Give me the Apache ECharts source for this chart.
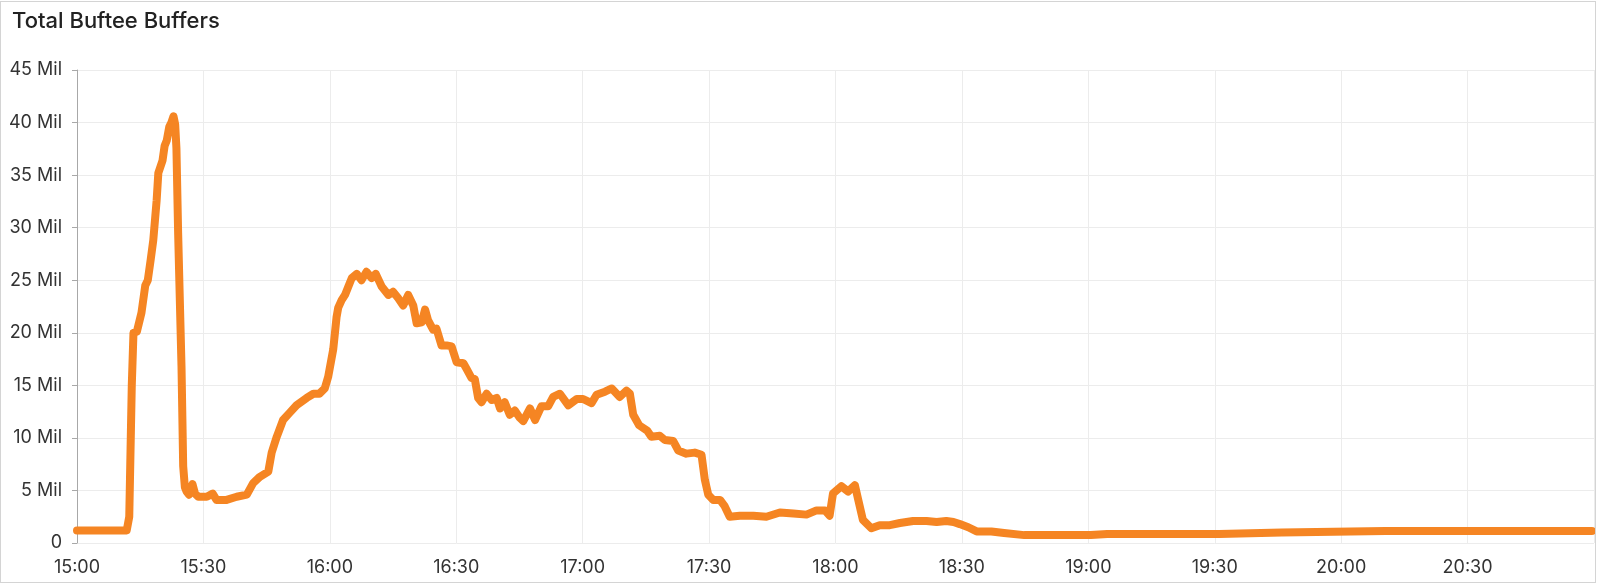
<!DOCTYPE html>
<html>
<head>
<meta charset="utf-8">
<title>Total Buftee Buffers</title>
<script src="https://cdn.jsdelivr.net/npm/echarts@6/dist/echarts.min.js"></script>
<style>
  html, body { margin: 0; padding: 0; background: #fff; }
  #wrap { position: relative; width: 1600px; height: 584px; }
  #chart { position: absolute; left: 0; top: 0; width: 1600px; height: 584px; }
  #frame {
    position: absolute; left: 0; top: 1px; width: 1594px; height: 580px;
    border: 1px solid #d4d4d4; pointer-events: none;
  }
</style>
</head>
<body>
<div id="wrap">
  <div id="chart"></div>
  <div id="frame"></div>
</div>
<script>
// Total Buftee Buffers — minutes after 15:00 and value in millions

const TITLE = 'Total Buftee Buffers';

const minutes = [
  0, 11.8, 12.4, 13.0, 13.4, 14.2, 15.3, 16.2, 16.8, 17.5,
  18.1, 18.9, 19.3, 20.3, 20.8, 21.3, 21.9, 22.4, 22.9, 23.3,
  23.6, 24.0, 24.8, 25.2, 25.6, 26.0, 26.6, 27.4, 28.0, 28.8,
  30.0, 30.8, 32.2, 33.1, 35.5, 37.9, 40.3, 41.8, 43.4, 45.4,
  46.2, 47.4, 48.9, 50.5, 52.1, 54.5, 56.1, 57.5, 58.8, 59.6,
  60.8, 61.6, 62.0, 62.8, 63.6, 64.4, 65.2, 66.4, 67.5, 68.7,
  69.9, 70.9, 72.3, 73.9, 75.0, 76.2, 77.4, 78.6, 79.8, 80.6,
  81.8, 82.6, 83.3, 84.5, 85.3, 86.5, 87.7, 88.9, 90.1, 91.7,
  92.4, 93.6, 94.4, 95.2, 96.0, 97.2, 98.4, 99.6, 100.4, 101.5,
  102.7, 103.9, 105.1, 105.9, 107.5, 108.7, 110.2, 111.8, 113.0, 114.6,
  116.6, 118.6, 120.1, 122.1, 123.3, 125.3, 126.9, 128.8, 130.4, 131.2,
  132.0, 133.4, 135.3, 136.3, 138.3, 139.5, 141.5, 142.7, 144.6, 146.6,
  148.2, 149.0, 149.8, 151.0, 152.6, 153.7, 154.9, 157.3, 160.5, 163.6,
  166.8, 170.0, 173.1, 175.5, 177.5, 178.6, 179.4, 181.4, 183.0, 184.6,
  185.4, 186.5, 188.5, 190.5, 192.9, 195.3, 198.4, 201.6, 204.0, 206.3,
  208.0, 209.5, 211.5, 213.5, 217.0, 220.0, 224.8, 240.6, 244.5, 271.1,
  285.9, 310.5, 359.5
];

const buffersMil = [
  1.2, 1.2, 2.5, 15.0, 20.0, 20.1, 21.9, 24.5, 25.0, 27.0,
  28.8, 32.6, 35.2, 36.4, 37.8, 38.3, 39.6, 40.0, 40.6, 39.8,
  37.5, 29.5, 16.8, 7.3, 5.3, 4.9, 4.6, 5.6, 4.7, 4.4,
  4.4, 4.4, 4.7, 4.1, 4.1, 4.4, 4.6, 5.7, 6.3, 6.8,
  8.6, 10.1, 11.7, 12.4, 13.1, 13.8, 14.2, 14.2, 14.7, 15.8,
  18.4, 21.5, 22.4, 23.1, 23.6, 24.4, 25.2, 25.6, 25.0, 25.8,
  25.2, 25.6, 24.4, 23.6, 23.9, 23.3, 22.6, 23.6, 22.6, 20.9,
  21.0, 22.2, 21.2, 20.3, 20.4, 18.8, 18.8, 18.7, 17.2, 17.1,
  16.6, 15.7, 15.6, 13.8, 13.4, 14.2, 13.6, 13.8, 12.8, 13.4,
  12.2, 12.6, 11.9, 11.6, 12.8, 11.7, 13.0, 13.0, 13.9, 14.2,
  13.1, 13.7, 13.7, 13.3, 14.1, 14.4, 14.7, 13.9, 14.5, 14.2,
  12.2, 11.2, 10.7, 10.1, 10.2, 9.8, 9.7, 8.8, 8.5, 8.6,
  8.4, 6.0, 4.6, 4.1, 4.1, 3.5, 2.5, 2.6, 2.6, 2.5,
  2.9, 2.8, 2.7, 3.1, 3.1, 2.6, 4.7, 5.4, 4.9, 5.5,
  4.1, 2.2, 1.4, 1.7, 1.7, 1.9, 2.1, 2.1, 2.0, 2.1,
  2.0, 1.8, 1.5, 1.1, 1.1, 0.95, 0.75, 0.75, 0.85, 0.85,
  1.0, 1.15, 1.15
];

const START_HOUR = 15;
const yTicks = [0, 5, 10, 15, 20, 25, 30, 35, 40, 45];

function fmtClock(m) {
  const total = START_HOUR * 60 + Math.round(m);
  const h = Math.floor(total / 60);
  const mm = total % 60;
  return h + ':' + (mm < 10 ? '0' : '') + mm;
}

function fmtMil(v) {
  return v === 0 ? '0' : v + ' Mil';
}

const FONT = 'Inter, "Noto Sans", sans-serif';

const chart = echarts.init(document.getElementById('chart'), null, { renderer: 'canvas' });
chart.setOption({
  backgroundColor: '#fff',
  animation: false,
  title: {
    text: TITLE,
    left: 7,
    top: 5,
    textStyle: { fontFamily: FONT, fontSize: 22, fontWeight: 500, color: '#222' },
  },
  grid: { left: 77, right: 6, top: 70, bottom: 41, containLabel: false },
  xAxis: {
    type: 'value',
    min: 0,
    max: 360,
    interval: 30,
    axisLine: { show: false },
    axisTick: { show: false },
    splitLine: { show: true, lineStyle: { color: '#ececec', width: 1 } },
    axisLabel: {
      margin: 16,
      fontFamily: FONT,
      fontSize: 18,
      color: '#333',
      showMaxLabel: false,
      formatter: fmtClock,
    },
  },
  yAxis: {
    type: 'value',
    min: yTicks[0],
    max: yTicks[yTicks.length - 1],
    interval: 5,
    axisLine: { show: true, lineStyle: { color: '#a8a8a8', width: 1 } },
    axisTick: { show: true, length: 5, lineStyle: { color: '#a8a8a8' } },
    splitLine: { show: true, lineStyle: { color: '#ececec', width: 1 } },
    axisLabel: {
      margin: 15,
      fontFamily: FONT,
      fontSize: 18,
      color: '#333',
      formatter: fmtMil,
    },
  },
  series: [{
    type: 'line',
    name: TITLE,
    data: minutes.map((m, i) => [m, buffersMil[i]]),
    showSymbol: false,
    smooth: false,
    lineStyle: { color: '#f58523', width: 8, cap: 'round', join: 'round' },
    itemStyle: { color: '#f58523' },
  }],
});
</script>
</body>
</html>
